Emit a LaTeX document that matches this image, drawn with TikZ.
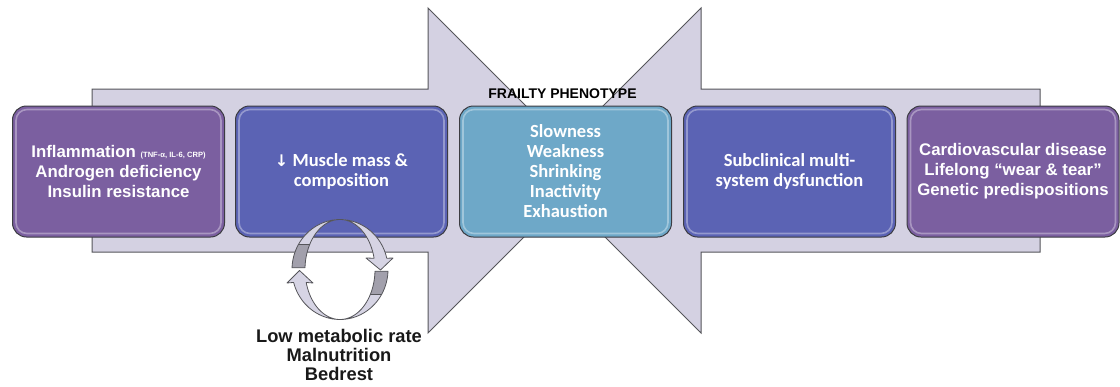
\documentclass[tikz,border=0pt]{standalone}
\usepackage{fontspec}
\setmainfont{Liberation Sans}
\newfontfamily\calfont{Carlito}
\newfontfamily\dvfont{DejaVu Sans}
\definecolor{arrowfill}{RGB}{212,209,226}
\definecolor{edgegray}{RGB}{85,85,90}
\definecolor{boxedge}{RGB}{60,60,66}
\definecolor{purp}{RGB}{123,95,160}
\definecolor{bluep}{RGB}{91,99,180}
\definecolor{teal}{RGB}{110,168,200}
\definecolor{cyclelight}{RGB}{214,212,228}
\definecolor{cycledark}{RGB}{162,160,172}
\begin{document}
\begin{tikzpicture}[x=1pt,y=-1pt,
  bigarrow/.style={fill=arrowfill, draw=edgegray, line width=1pt, line join=miter},
  box/.style={rounded corners=14pt, draw=boxedge, line width=1pt,
    minimum width=212pt, minimum height=131pt, align=center, text=white,
    inner sep=2pt,
    path picture={\draw[white, opacity=.35, line width=1.6pt, rounded corners=11pt]
      ([shift={(3.5pt,-3.5pt)}]path picture bounding box.north west) rectangle
      ([shift={(-3.5pt,3.5pt)}]path picture bounding box.south east);}},
  arialtxt/.style={font=\fontsize{16.8}{20}\selectfont\bfseries},
  caltxt/.style={font=\fontsize{18.5}{20}\selectfont\calfont\bfseries},
  ribbon/.style={draw=edgegray, line width=0.8pt, line join=round}]
\useasboundingbox (0,0) rectangle (1120,386);

% big arrows
\draw[bigarrow] (92,89) -- (428,89) -- (428,8) -- (590.5,170.5) -- (428,333) -- (428,252) -- (92,252) -- cycle;
\draw[bigarrow] (1040,89) -- (701,89) -- (701,8) -- (538.5,170.5) -- (701,333) -- (701,252) -- (1040,252) -- cycle;

% boxes
\node[box, fill=purp, arialtxt] (b1) at (118.5,171.5)
  {Inflammation {\fontsize{7.6}{9}\selectfont (TNF-α, IL-6, CRP)}\\Androgen deficiency\\Insulin resistance};
\node[box, fill=bluep, caltxt] (b2) at (341.5,171.5)
  {{\dvfont\fontsize{16}{20}\selectfont ↓} Muscle mass \&\\composition};
\node[box, fill=teal, caltxt] (b3) at (565.5,171.5)
  {Slowness\\Weakness\\Shrinking\\Inactivity\\Exhaustion};
\node[box, fill=bluep, caltxt] (b4) at (789.5,171.5)
  {Subclinical multi-\\system dysfunction};
\node[box, fill=purp, arialtxt] (b5) at (1013,171.5)
  {Cardiovascular disease\\Lifelong “wear \& tear”\\Genetic predispositions};

\node[font=\fontsize{14}{16}\selectfont\bfseries, text=black, inner sep=0pt] (fp) at (562.5,94) {FRAILTY PHENOTYPE};

% cycle arrows
\filldraw[ribbon, fill=cycledark]
  plot[domain=-2:-30, samples=12] ({340+48*cos(\x)},{269.5-50*sin(\x)})
  -- plot[domain=-30:-2, samples=12] ({340+35*cos(\x)},{269.5-50*sin(\x)}) -- cycle;
\filldraw[ribbon, fill=cyclelight]
  plot[domain=-30:-165, samples=40] ({340+48*cos(\x)},{269.5-50*sin(\x)})
  -- (287,283) -- (299.5,270.5) -- (313,283)
  -- plot[domain=-165:-30, samples=40] ({340+35*cos(\x)},{269.5-50*sin(\x)}) -- cycle;
\filldraw[ribbon, fill=cycledark]
  plot[domain=178:150, samples=12] ({340+48*cos(\x)},{269.5-50*sin(\x)})
  -- plot[domain=150:178, samples=12] ({340+35*cos(\x)},{269.5-50*sin(\x)}) -- cycle;
\filldraw[ribbon, fill=cyclelight]
  plot[domain=150:13, samples=40] ({340+48*cos(\x)},{269.5-50*sin(\x)})
  -- (393,258) -- (380.5,270) -- (366,258)
  -- plot[domain=13:150, samples=40] ({340+35*cos(\x)},{269.5-50*sin(\x)}) -- cycle;

\node[font=\fontsize{18.3}{19}\selectfont\bfseries, text=black!90, align=center, inner sep=0pt] (low) at (339,355)
  {Low metabolic rate\\Malnutrition\\Bedrest};
\end{tikzpicture}
\end{document}
